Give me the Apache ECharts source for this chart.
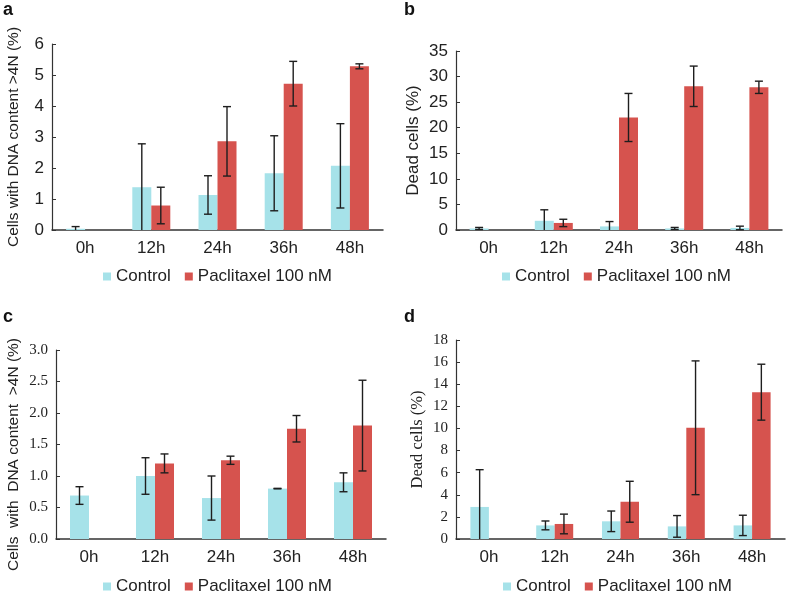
<!DOCTYPE html>
<html>

<head>
    <meta charset="utf-8">
    <script src="https://cdn.jsdelivr.net/npm/echarts@6/dist/echarts.min.js"></script>
</head>

<body style="margin:0;background:#fff;">
    <div id="main" style="width: 787px;height:594px;"></div>
    <script type="text/javascript">
        // categories
        var hours = ['0h', '12h', '24h', '36h', '48h'];

        // panel a: cells with DNA content >4N (%)
        var ctrlA = [0.04, 1.38, 1.13, 1.83, 2.07];
        var ctrlErrA = [0.07, 1.4, 0.62, 1.21, 1.36];
        var paclA = [null, 0.79, 2.86, 4.72, 5.28];
        var paclErrA = [null, 0.59, 1.12, 0.72, 0.08];

        // panel b: dead cells (%)
        var ctrlB = [0.3, 1.8, 0.7, 0.3, 0.4];
        var ctrlErrB = [0.2, 2.15, 0.95, 0.2, 0.35];
        var paclB = [null, 1.38, 22.0, 28.1, 27.9];
        var paclErrB = [null, 0.72, 4.7, 3.95, 1.2];

        // panel c
        var ctrlC = [0.69, 1.0, 0.65, 0.8, 0.9];
        var ctrlErrC = [0.14, 0.29, 0.35, 0.004, 0.15];
        var paclC = [null, 1.2, 1.25, 1.75, 1.8];
        var paclErrC = [null, 0.15, 0.065, 0.21, 0.72];

        // panel d
        var ctrlD = [2.9, 1.23, 1.6, 1.14, 1.23];
        var ctrlErrD = [3.37, 0.4, 0.93, 0.98, 0.92];
        var paclD = [null, 1.36, 3.37, 10.06, 13.28];
        var paclErrD = [null, 0.89, 1.85, 6.05, 2.53];

        var names = ['Control', 'Paclitaxel 100 nM'];
        var colors = ['#a6e2e9', '#d6534e'];
        var sans = '"Liberation Sans", Arial, sans-serif';
        var serif = '"Liberation Serif", "Times New Roman", serif';

        var myChart = echarts.init(document.getElementById('main'));

        function errData(vals, errs) {
            var out = [];
            vals.forEach(function (v, i) {
                if (v != null) out.push([i, v, errs[i]]);
            });
            return out;
        }

        // draws one error bar, shifted to the centre of the bar
        function errRender(shift) {
            return function (params, api) {
                var i = api.value(0), v = api.value(1), e = api.value(2);
                var top = api.coord([i, v + e]);
                var low = Math.max(0, v - e);
                var bot = api.coord([i, low]);
                var x = top[0] + shift;
                var st = { stroke: '#1e1e1e', lineWidth: 1.4 };
                var kids = [
                    { type: 'line', shape: { x1: x, y1: top[1], x2: x, y2: bot[1] }, style: st },
                    { type: 'line', shape: { x1: x - 4, y1: top[1], x2: x + 4, y2: top[1] }, style: st }
                ];
                if (low > 0) {
                    kids.push({ type: 'line', shape: { x1: x - 4, y1: bot[1], x2: x + 4, y2: bot[1] }, style: st });
                }
                return { type: 'group', children: kids };
            };
        }

        var panels = [
            { grid: { left: 52, top: 44, width: 331, height: 186 }, max: 6, step: 1, font: sans, dec: 0,
              name: 'Cells with DNA content >4N (%)', nameFont: sans, nameSize: 15.5, nameGap: 30, namePad: 0,
              ctrl: ctrlA, ctrlErr: ctrlErrA, pacl: paclA, paclErr: paclErrA, bw: 19,
              legend: { left: 103, top: 268 } },
            { grid: { left: 456, top: 51, width: 326, height: 179 }, max: 35, step: 5, font: sans, dec: 0,
              name: 'Dead cells (%)', nameFont: sans, nameSize: 17, nameGap: 34, namePad: 0,
              ctrl: ctrlB, ctrlErr: ctrlErrB, pacl: paclB, paclErr: paclErrB, bw: 19,
              legend: { left: 502, top: 268 } },
            { grid: { left: 56, top: 350, width: 330, height: 189 }, max: 3, step: 0.5, font: serif, dec: 1,
              name: 'Cells  with  DNA content  >4N (%)', nameFont: sans, nameSize: 15.5, nameGap: 34, namePad: 20,
              ctrl: ctrlC, ctrlErr: ctrlErrC, pacl: paclC, paclErr: paclErrC, bw: 19,
              legend: { left: 103, top: 578 } },
            { grid: { left: 456, top: 340, width: 329, height: 199 }, max: 18, step: 2, font: serif, dec: 0,
              name: 'Dead cells (%)', nameFont: serif, nameSize: 16.5, nameGap: 30, namePad: 0,
              ctrl: ctrlD, ctrlErr: ctrlErrD, pacl: paclD, paclErr: paclErrD, bw: 18.5,
              legend: { left: 503, top: 578 } }
        ];

        var letters = ['a', 'b', 'c', 'd'];
        var letterPos = [[3, 1], [404, 1], [3, 308], [404, 308]];

        var option = {
            animation: false,
            title: letters.map(function (t, i) {
                return {
                    text: t, left: letterPos[i][0], top: letterPos[i][1], padding: 0,
                    textStyle: { fontFamily: sans, fontSize: 18, fontWeight: 'bold', color: '#111' }
                };
            }),
            legend: [],
            grid: [],
            xAxis: [],
            yAxis: [],
            series: []
        };

        panels.forEach(function (p, k) {
            option.grid.push(p.grid);
            option.legend.push({
                data: names, left: p.legend.left, top: p.legend.top,
                icon: 'rect', itemWidth: 8, itemHeight: 8, itemGap: 14, padding: 0,
                textStyle: { fontFamily: sans, fontSize: 17, color: '#222' }
            });
            option.xAxis.push({
                type: 'category', gridIndex: k, data: hours,
                axisLine: { lineStyle: { color: '#333', width: 1.5 } },
                axisTick: { show: false },
                axisLabel: { fontFamily: sans, fontSize: 17, color: '#222', margin: 10 }
            });
            option.yAxis.push({
                type: 'value', gridIndex: k, min: 0, max: p.max, interval: p.step,
                name: p.name, nameLocation: 'middle', nameGap: p.nameGap,
                nameTextStyle: {
                    fontFamily: p.nameFont, fontSize: p.nameSize, color: '#222',
                    padding: [0, p.namePad, 0, 0]
                },
                splitLine: { show: false },
                axisLine: { show: true, lineStyle: { color: '#333', width: 1.2 } },
                axisTick: { show: true, inside: true, length: 4, lineStyle: { color: '#333' } },
                axisLabel: {
                    fontFamily: p.font, fontSize: p.font === serif ? 15 : 17, color: '#222', margin: 8,
                    formatter: function (v) { return v.toFixed(p.dec); }
                }
            });
            var groups = [[p.ctrl, p.ctrlErr], [p.pacl, p.paclErr]];
            groups.forEach(function (g, j) {
                option.series.push({
                    name: names[j], type: 'bar', xAxisIndex: k, yAxisIndex: k,
                    data: g[0], barWidth: p.bw, barGap: '0%',
                    itemStyle: { color: colors[j] }
                });
            });
            groups.forEach(function (g, j) {
                option.series.push({
                    type: 'custom', xAxisIndex: k, yAxisIndex: k, z: 5,
                    renderItem: errRender((j === 0 ? -1 : 1) * p.bw / 2),
                    data: errData(g[0], g[1])
                });
            });
        });

        myChart.setOption(option);
    </script>
</body>

</html>
